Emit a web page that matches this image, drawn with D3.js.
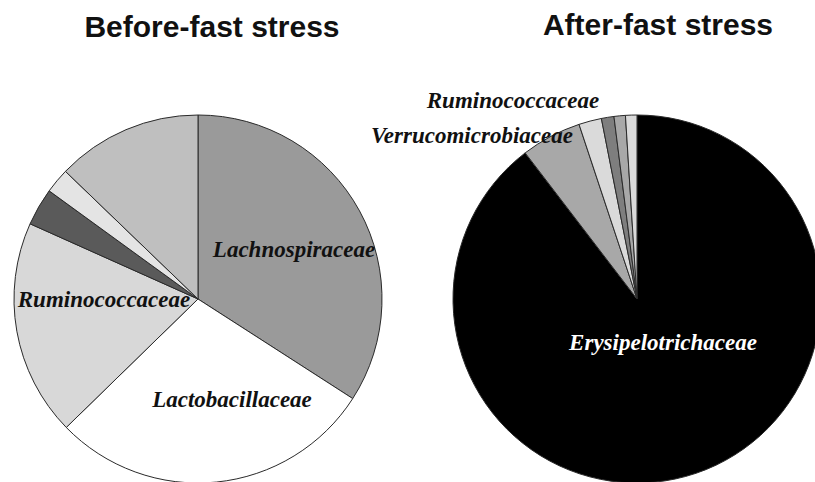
<html>

<head>
    <title>Fast stress pies</title>
    <script src="https://d3js.org/d3.v7.min.js"></script>
    <style>
        body { margin: 0; background: #fff; }
    </style>
</head>

<body>
    <script>
        // family shares (%), clockwise from 12 o'clock
        const beforeNames = ['Lachnospiraceae', 'Lactobacillaceae', 'Ruminococcaceae', 'other a', 'other b', 'other c']
        const beforeValues = [34.1, 28.6, 19.0, 3.3, 2.2, 12.8]

        const afterNames = ['Erysipelotrichaceae', 'Verrucomicrobiaceae', 'Ruminococcaceae', 'other a', 'other b', 'other c']
        const afterValues = [89.6, 5.3, 2.0, 1.1, 1.0, 1.0]

        const titles = ['Before-fast stress', 'After-fast stress']

        // which slices carry a printed name
        const beforeLabelled = ['Lachnospiraceae', 'Lactobacillaceae', 'Ruminococcaceae']
        const afterLabelled = ['Erysipelotrichaceae', 'Verrucomicrobiaceae', 'Ruminococcaceae']

        const W = 815, H = 482, R = 184

        const svg = d3.select('body').append('svg')
            .attr('width', W)
            .attr('height', H)

        const panels = [
            {
                names: beforeNames, values: beforeValues, labelled: beforeLabelled,
                cx: 198, cy: 299, titleX: 212, titleY: 37,
                fills: ['#9a9a9a', '#ffffff', '#d8d8d8', '#5a5a5a', '#e4e4e4', '#bfbfbf'],
                textColor: '#111',
                // label spots relative to the pie centre
                spots: { Lachnospiraceae: [96, -42], Lactobacillaceae: [34, 108], Ruminococcaceae: [-94, 8] }
            },
            {
                names: afterNames, values: afterValues, labelled: afterLabelled,
                cx: 637, cy: 299, titleX: 658, titleY: 35,
                fills: ['#000000', '#a8a8a8', '#dadada', '#7e7e7e', '#a8a8a8', '#dadada'],
                textColor: '#111',
                spots: { Erysipelotrichaceae: [26, 51], Verrucomicrobiaceae: [-165, -156], Ruminococcaceae: [-124, -191] }
            }
        ]

        const pie = d3.pie().sort(null).value(d => d.value)
        const arc = d3.arc().innerRadius(0).outerRadius(R)

        panels.forEach((p, k) => {
            const data = p.names.map((n, i) => ({ name: n, value: p.values[i] }))
            const color = d3.scaleOrdinal().domain(p.names).range(p.fills)

            const g = svg.append('g')
                .attr('transform', 'translate(' + p.cx + ',' + p.cy + ')')

            g.selectAll('path')
                .data(pie(data))
                .enter()
                .append('path')
                .attr('d', arc)
                .attr('fill', d => color(d.data.name))
                .attr('stroke', '#2a2a2a')
                .attr('stroke-width', 1)

            g.selectAll('text.lbl')
                .data(p.labelled)
                .enter()
                .append('text')
                .attr('class', 'lbl')
                .attr('x', d => p.spots[d][0])
                .attr('y', d => p.spots[d][1])
                .attr('text-anchor', 'middle')
                .attr('font-family', '"Liberation Serif", "Times New Roman", serif')
                .attr('font-style', 'italic')
                .attr('font-weight', 'bold')
                .attr('font-size', '23px')
                .attr('fill', d => (k === 1 && d === 'Erysipelotrichaceae') ? '#ffffff' : p.textColor)
                .text(d => d)

            svg.append('text')
                .attr('x', p.titleX)
                .attr('y', p.titleY)
                .attr('text-anchor', 'middle')
                .attr('font-family', '"Liberation Sans", Arial, sans-serif')
                .attr('font-weight', 'bold')
                .attr('font-size', '30px')
                .attr('fill', '#111')
                .text(titles[k])
        })
    </script>
</body>

</html>
